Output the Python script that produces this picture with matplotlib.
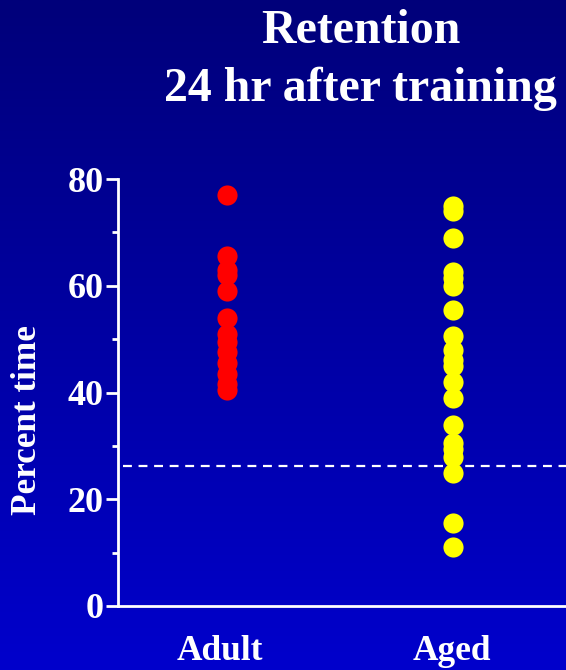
import numpy as np
import matplotlib
matplotlib.use("Agg")
import matplotlib.pyplot as plt

categories = ["Adult", "Aged"]
adult_values = [77, 65.5, 63, 62, 59, 54, 51, 49.5, 47.5, 45.5, 43.5, 41.5, 40.5]
aged_values = [75, 74, 69, 62.5, 61.5, 60, 55.5, 50.5, 48, 46, 45, 42, 39, 34,
               30.5, 29.5, 28, 25, 15.5, 11]
chance_level = 26.2
yticks = [0, 20, 40, 60, 80]
title_text = "Retention\n24 hr after training"
ylabel_text = "Percent time"

W, H = 566, 670
fig = plt.figure(figsize=(W / 100, H / 100), dpi=100)

# background gradient
bg = fig.add_axes([0, 0, 1, 1], zorder=-10)
top = np.array([0x00, 0x00, 0x7A]) / 255
bot = np.array([0x00, 0x00, 0xCC]) / 255
t = np.linspace(0, 1, 256)[:, None]
grad = (top[None, :] * (1 - t) + bot[None, :] * t)[:, None, :]
bg.imshow(grad, aspect="auto", extent=[0, 1, 0, 1], origin="upper")
bg.set_axis_off()

serif = ["Liberation Serif", "DejaVu Serif"]

# axes: left x=118, right=566, bottom y=606, top y=179
ax = fig.add_axes([118 / W, 1 - 606 / H, (566 - 118) / W, (606 - 179) / H])
ax.patch.set_alpha(0)
ax.set_ylim(0, 80)
ax.set_xlim(-0.482, 1.5)

ms = 14.5
ax.plot([0] * len(adult_values), adult_values, "o", color="#ff0000", ms=ms,
        mec="none", clip_on=False, zorder=3)
ax.plot([1] * len(aged_values), aged_values, "o", color="#ffff00", ms=ms,
        mec="none", clip_on=False, zorder=3)
ax.plot([-0.46, 1.5], [chance_level, chance_level], ls=(0, (4, 3)), color="white",
        lw=1.6, zorder=2)

for s in ["top", "right"]:
    ax.spines[s].set_visible(False)
for s in ["left", "bottom"]:
    ax.spines[s].set_color("white")
    ax.spines[s].set_linewidth(2)

ax.set_yticks(yticks)
ax.set_yticks([10, 30, 50, 70], minor=True)
ax.tick_params(axis="y", which="major", length=9, width=2, color="white",
               labelcolor="white", pad=1.5)
ax.tick_params(axis="y", which="minor", length=4, width=2, color="white")
for lab in ax.get_yticklabels():
    lab.set_fontfamily(serif)
    lab.set_fontweight("bold")
    lab.set_fontsize(26)
ax.set_xticks([])

def px(x, y):
    return x / W, 1 - y / H

fig.text(*px(361, 31), "Retention", ha="center", va="center", color="white",
         fontsize=34.5, fontweight="bold", family=serif)
fig.text(*px(360, 89), "24 hr after training", ha="center", va="center", color="white",
         fontsize=34.5, fontweight="bold", family=serif)
fig.text(*px(220, 652), categories[0], ha="center", va="center", color="white",
         fontsize=25.5, fontweight="bold", family=serif)
fig.text(*px(452, 652), categories[1], ha="center", va="center", color="white",
         fontsize=25.5, fontweight="bold", family=serif)
fig.text(*px(28, 420), ylabel_text, ha="center", va="center", rotation=90,
         color="white", fontsize=25.3, fontweight="bold", family=serif)

fig.savefig("out.png", dpi=100)
